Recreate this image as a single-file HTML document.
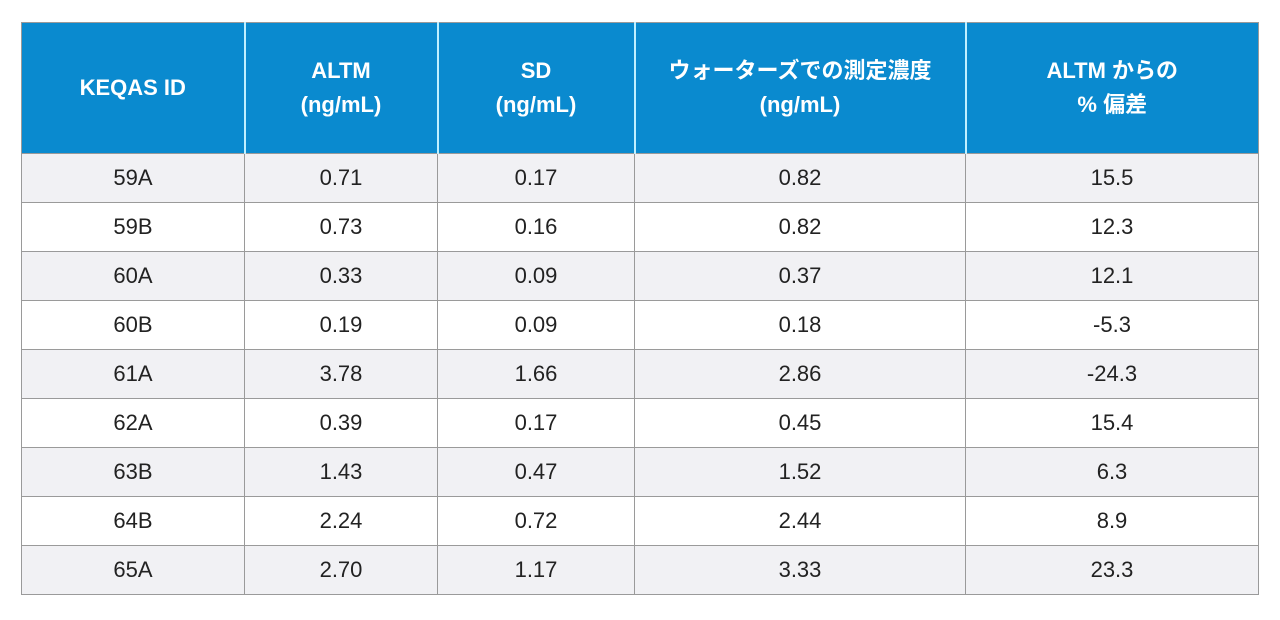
<!DOCTYPE html>
<html><head><meta charset="utf-8"><style>
body{margin:0;width:1280px;height:620px;background:#fff;overflow:hidden;font-family:"Liberation Sans","Noto Sans CJK JP",sans-serif}
table{position:absolute;left:21px;top:22px;border-collapse:collapse;table-layout:fixed}
th{background:#0a8acf;color:#fff;font-weight:bold;font-size:22px;line-height:34px;height:130px;border:1.5px solid #9a9a9a;border-left:2px solid #bfefff;border-right:2px solid #bfefff;padding:0;text-align:center}
th:first-child{border-left:1.5px solid #9a9a9a}th:last-child{border-right:1.5px solid #9a9a9a}
td{height:48px;border:1.5px solid #9a9a9a;font-size:22px;color:#222;text-align:center;padding:0}
tr:nth-child(odd) td{background:#f1f1f4}
</style></head><body>
<table>
<colgroup><col style="width:223px"><col style="width:193px"><col style="width:197px"><col style="width:331px"><col style="width:293px"></colgroup>
<thead><tr>
<th>KEQAS ID</th>
<th>ALTM<br>(ng/mL)</th>
<th>SD<br>(ng/mL)</th>
<th>ウォーターズでの測定濃度<br>(ng/mL)</th>
<th>ALTM からの<br>% 偏差</th>
</tr></thead>
<tbody>
<tr><td>59A</td><td>0.71</td><td>0.17</td><td>0.82</td><td>15.5</td></tr>
<tr><td>59B</td><td>0.73</td><td>0.16</td><td>0.82</td><td>12.3</td></tr>
<tr><td>60A</td><td>0.33</td><td>0.09</td><td>0.37</td><td>12.1</td></tr>
<tr><td>60B</td><td>0.19</td><td>0.09</td><td>0.18</td><td>-5.3</td></tr>
<tr><td>61A</td><td>3.78</td><td>1.66</td><td>2.86</td><td>-24.3</td></tr>
<tr><td>62A</td><td>0.39</td><td>0.17</td><td>0.45</td><td>15.4</td></tr>
<tr><td>63B</td><td>1.43</td><td>0.47</td><td>1.52</td><td>6.3</td></tr>
<tr><td>64B</td><td>2.24</td><td>0.72</td><td>2.44</td><td>8.9</td></tr>
<tr><td>65A</td><td>2.70</td><td>1.17</td><td>3.33</td><td>23.3</td></tr>
</tbody></table>
</body></html>
